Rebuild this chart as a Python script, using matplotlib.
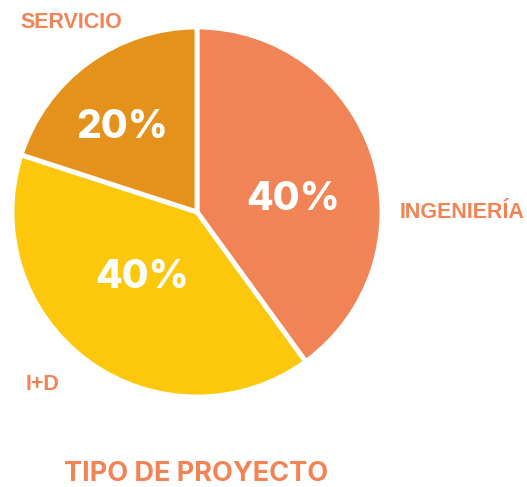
import matplotlib
matplotlib.use("Agg")
import matplotlib.pyplot as plt

categories = ["INGENIERÍA", "I+D", "SERVICIO"]
values = [40, 40, 20]
pct_labels = ["40%", "40%", "20%"]
colors = ["#F08456", "#FDC80B", "#E5921C"]
label_color = "#F38354"

W, H = 527, 487
fig = plt.figure(figsize=(W / 100, H / 100), dpi=100)
cx, cy, r = 197, 212, 185
ax = fig.add_axes([(cx - r) / W, (H - cy - r) / H, 2 * r / W, 2 * r / H])
ax.pie(values, colors=colors, startangle=90, counterclock=False, radius=1,
       wedgeprops=dict(edgecolor="white", linewidth=3.5))
ax.set_xlim(-1, 1)
ax.set_ylim(-1, 1)
ax.set_aspect("auto")
ax.axis("off")

# percentage labels (pixel positions from reference)
pct_pos = [(293, 200), (142, 278), (122, 127)]
for (px, py), t in zip(pct_pos, pct_labels):
    ax.text((px - cx) / r, (cy - py) / r, t, color="white", fontsize=28,
            fontweight="heavy", family=["Inter", "DejaVu Sans"], ha="center", va="center")

# outside labels
out_pos = [(462, 213), (43, 385), (71, 22)]
for (px, py), t in zip(out_pos, categories):
    fig.text(px / W, 1 - py / H, t, color=label_color, fontsize=15.5,
             fontweight="bold", family=["Liberation Sans", "DejaVu Sans"], ha="center", va="center")

fig.text(196 / W, 1 - 474 / H, "TIPO DE PROYECTO", color=label_color, fontsize=19.5,
         fontweight="bold", family=["Inter", "DejaVu Sans"], ha="center", va="center")

fig.savefig("out.png", dpi=100, facecolor="white")
